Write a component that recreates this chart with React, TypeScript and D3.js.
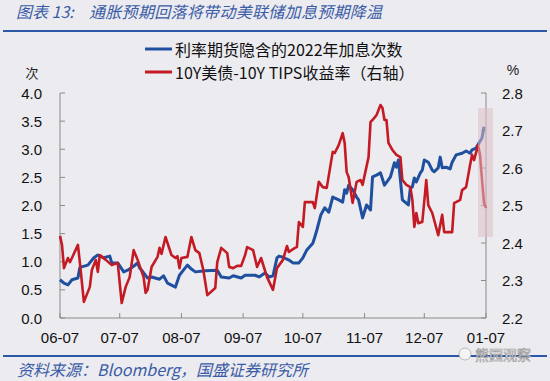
import React from "react";
import * as d3 from "d3";

const startDate = "2021-06-07";
const xTickLabels = ["06-07", "07-07", "08-07", "09-07", "10-07", "11-07", "12-07", "01-07"];
const leftTicks = [0, 0.5, 1, 1.5, 2, 2.5, 3, 3.5, 4];
const rightTicks = [2.2, 2.3, 2.4, 2.5, 2.6, 2.7, 2.8];
const blueName = "利率期货隐含的2022年加息次数";
const redName = "10Y美债-10Y TIPS收益率（右轴）";
const titleLead = "图表 13:";
const titleText = "通胀预期回落将带动美联储加息预期降温";
const sourceText = "资料来源：Bloomberg，国盛证券研究所";
const watermark = "熊园观察";

// days since startDate
const blueDay = [
  0, 2, 4, 6, 9, 10, 14, 17, 19, 22,
  25, 26, 29, 32, 34, 37, 39, 40, 41, 44,
  46, 50, 52, 54, 58, 60, 62, 64, 66, 68,
  73, 79, 81, 85, 87, 91, 93, 98, 100, 103,
  105, 107, 109, 110, 112, 115, 117, 120, 122, 124,
  127, 128, 129, 131, 133, 135, 136, 137, 140, 142,
  143, 144, 145, 147, 149, 150, 152, 154, 156, 157,
  159, 161, 163, 166, 168, 169, 170, 172, 175, 176,
  177, 178, 179, 181, 182, 183, 185, 187, 188, 190,
  191, 192, 194, 196, 197, 199, 202, 204, 206, 207,
  209, 212, 213,
];
const blueValue = [
  0.68, 0.62, 0.59, 0.68, 0.71, 0.9, 0.94, 1.07, 1.12, 1.07,
  1.1, 0.98, 0.98, 0.82, 0.85, 0.92, 0.98, 0.89, 0.85, 0.71,
  0.73, 0.69, 0.75, 0.62, 0.55, 0.76, 0.85, 0.94, 0.87, 0.82,
  0.84, 0.85, 0.73, 0.71, 0.75, 0.71, 0.76, 0.76, 0.73, 0.8,
  0.73, 0.75, 1.07, 1.1, 1.08, 1.03, 0.98, 0.98, 1.07, 1.21,
  1.33, 1.44, 1.56, 1.83, 1.96, 1.88, 2.01, 2.15, 2.1, 2.06,
  2.28, 2.22, 2.36, 2.28, 2.15, 2.1, 1.78, 2.01, 1.92, 2.51,
  2.54, 2.58, 2.36, 2.51, 2.76, 2.68, 2.81, 2.1, 2.01, 2.31,
  2.33, 2.49, 2.42, 2.58, 2.63, 2.81, 2.77, 2.63, 2.6, 2.67,
  2.86, 2.67, 2.68, 2.65, 2.77, 2.9, 2.93, 2.97, 2.93, 2.99,
  3.02, 3.2, 3.4,
];

const redDay = [
  0, 1, 2, 4, 5, 6, 9, 10, 12, 15,
  16, 18, 19, 20, 23, 26, 29, 31, 33, 35,
  37, 39, 42, 43, 44, 46, 49, 50, 51, 53,
  56, 58, 59, 60, 61, 64, 66, 68, 70, 72,
  74, 78, 79, 81, 84, 85, 87, 89, 91, 93,
  94, 97, 99, 101, 104, 107, 109, 112, 114, 115,
  118, 119, 120, 122, 123, 127, 128, 129, 130, 132,
  134, 137, 138, 140, 142, 143, 144, 145, 147, 149,
  151, 152, 155, 156, 157, 159, 161, 162, 163, 164,
  165, 167, 169, 171, 172, 174, 176, 177, 178, 179,
  180, 182, 184, 185, 187, 190, 192, 193, 197, 198,
  199, 201, 202, 204, 206, 207, 208, 210, 211, 212,
  213, 214,
];
const redValue = [
  2.419, 2.395, 2.333, 2.36, 2.349, 2.36, 2.395, 2.347, 2.243, 2.283,
  2.328, 2.355, 2.323, 2.368, 2.355, 2.341, 2.347, 2.24, 2.283, 2.309,
  2.381, 2.355, 2.309, 2.267, 2.275, 2.336, 2.363, 2.387, 2.371, 2.416,
  2.368, 2.36, 2.365, 2.333, 2.36, 2.363, 2.416, 2.381, 2.373, 2.328,
  2.261, 2.28, 2.349, 2.387, 2.373, 2.336, 2.333, 2.339, 2.339, 2.368,
  2.389, 2.381, 2.336, 2.36, 2.309, 2.275, 2.333, 2.355, 2.392, 2.376,
  2.387, 2.389, 2.456, 2.443, 2.509, 2.509, 2.493, 2.528, 2.563, 2.549,
  2.547, 2.643, 2.64, 2.661, 2.693, 2.667, 2.589, 2.576, 2.507, 2.563,
  2.568, 2.555, 2.629, 2.723, 2.728, 2.741, 2.768, 2.76, 2.728, 2.728,
  2.667, 2.648, 2.635, 2.629, 2.568, 2.555, 2.549, 2.515, 2.443, 2.48,
  2.453, 2.456, 2.568, 2.501, 2.48, 2.421, 2.475, 2.429, 2.429, 2.507,
  2.509, 2.515, 2.541, 2.549, 2.608, 2.635, 2.621, 2.661, 2.635, 2.568,
  2.507, 2.493,
];

// shaded window (days since start, right-axis values)
const highlightDays = [210, 217.5];
const highlightRange = [2.416, 2.76];

const W = 550;
const H = 381;
const CJK = "'Noto Sans CJK SC', 'Noto Sans', sans-serif";
const NUM = "'Liberation Sans', Arial, sans-serif";
const BLUE = "#1f4f9f";
const RED = "#c41a24";
const AXIS = "#8a8a8a";
const TITLE_BLUE = "#3a5ca6";

export default function App() {
  const start = d3.timeParse("%Y-%m-%d")(startDate) as Date;
  const dayToDate = (d: number) => new Date(start.getTime() + d * 86400000);
  const end = d3.timeMonth.offset(start, 7);

  const left = 60, right = 486, top = 93, bottom = 318;
  const x = d3.scaleTime().domain([start, end]).range([left, right]);
  const yL = d3.scaleLinear().domain([0, 4]).range([bottom, top]);
  const yR = d3.scaleLinear().domain([2.2, 2.8]).range([bottom, top]);

  const blueData = blueDay.map((d, i) => ({ date: dayToDate(d), v: blueValue[i] }));
  const redData = redDay.map((d, i) => ({ date: dayToDate(d), v: redValue[i] }));

  const blueLine = d3.line<{ date: Date; v: number }>().x((p) => x(p.date)).y((p) => yL(p.v));
  const redLine = d3.line<{ date: Date; v: number }>().x((p) => x(p.date)).y((p) => yR(p.v));

  const monthTicks = xTickLabels.map((lab, i) => ({ lab, date: d3.timeMonth.offset(start, i) }));

  const hx0 = x(dayToDate(highlightDays[0]));
  const hx1 = x(dayToDate(highlightDays[1]));
  const hy0 = yR(highlightRange[1]);
  const hy1 = yR(highlightRange[0]);

  return (
    <svg
      width={W}
      height={H}
      viewBox={`0 0 ${W} ${H}`}
      style={{ position: "absolute", left: 0, top: 0, display: "block" }}
    >
      <rect x={0} y={0} width={W} height={H} fill="#ecebef" />

      {/* title */}
      <text x={16} y={18} fontFamily={CJK} fontSize={16} fontStyle="italic" fill={TITLE_BLUE}>
        {titleLead}
      </text>
      <text x={89} y={18} fontFamily={CJK} fontSize={16} fontStyle="italic" fill={TITLE_BLUE} letterSpacing={0.3}>
        {titleText}
      </text>
      <line x1={3} x2={547} y1={31} y2={31} stroke="#2a58a6" strokeWidth={2} />

      {/* legend */}
      <line x1={145} x2={172} y1={49} y2={49} stroke={BLUE} strokeWidth={3} />
      <text x={175} y={49} dominantBaseline="central" fontFamily={CJK} fontSize={16} fill="#111">
        {blueName}
      </text>
      <line x1={145} x2={172} y1={72} y2={72} stroke={RED} strokeWidth={3} />
      <text x={175} y={72} dominantBaseline="central" fontFamily={CJK} fontSize={16} fill="#111">
        {redName}
      </text>

      {/* unit labels */}
      <text x={32} y={72} textAnchor="middle" dominantBaseline="central" fontFamily={CJK} fontSize={13} fill="#222">
        次
      </text>
      <text x={513} y={70} textAnchor="middle" dominantBaseline="central" fontFamily={NUM} fontSize={14} fill="#222">
        %
      </text>

      {/* axes */}
      <g stroke={AXIS} strokeWidth={1} fill="none">
        <line x1={left} x2={left} y1={top} y2={bottom} />
        <line x1={right} x2={right} y1={top} y2={bottom} />
        <line x1={left} x2={right} y1={bottom} y2={bottom} />
        {leftTicks.map((t) => (
          <line key={"lt" + t} x1={left} x2={left + 5} y1={yL(t)} y2={yL(t)} />
        ))}
        {rightTicks.map((t) => (
          <line key={"rt" + t} x1={right - 5} x2={right} y1={yR(t)} y2={yR(t)} />
        ))}
        {monthTicks.map((m) => (
          <line key={"xt" + m.lab} x1={x(m.date)} x2={x(m.date)} y1={bottom} y2={bottom - 5} />
        ))}
      </g>
      {leftTicks.map((t) => (
        <text key={"ll" + t} x={42} y={yL(t)} textAnchor="end" dominantBaseline="central" fontFamily={NUM} fontSize={15} fill="#111">
          {t.toFixed(1)}
        </text>
      ))}
      {rightTicks.map((t) => (
        <text key={"rl" + t} x={502} y={yR(t)} textAnchor="start" dominantBaseline="central" fontFamily={NUM} fontSize={15} fill="#111">
          {t.toFixed(1)}
        </text>
      ))}
      {monthTicks.map((m) => (
        <text key={"xl" + m.lab} x={x(m.date)} y={337} textAnchor="middle" dominantBaseline="central" fontFamily={NUM} fontSize={15} fill="#111">
          {m.lab}
        </text>
      ))}

      {/* series */}
      <path d={blueLine(blueData) || ""} fill="none" stroke={BLUE} strokeWidth={3} strokeLinejoin="round" />
      <path d={redLine(redData) || ""} fill="none" stroke={RED} strokeWidth={2.6} strokeLinejoin="round" />

      {/* highlight */}
      <rect x={hx0} y={hy0} width={hx1 - hx0} height={hy1 - hy0} fill="rgb(222,192,198)" fillOpacity={0.55} />

      {/* footer */}
      <line x1={3} x2={547} y1={356} y2={356} stroke="#2a58a6" strokeWidth={2} />
      <text x={17} y={369} dominantBaseline="central" fontFamily={CJK} fontSize={16} fontStyle="italic" fill={TITLE_BLUE}>
        {sourceText}
      </text>
      <circle cx={465} cy={354} r={6} fill="#f4f4f4" stroke="#aaa" strokeWidth={0.8} />
      <text x={475} y={354} dominantBaseline="central" fontFamily={CJK} fontSize={14} fill="#f8f8f8" stroke="#999" strokeWidth={0.6}>
        {watermark}
      </text>
    </svg>
  );
}
